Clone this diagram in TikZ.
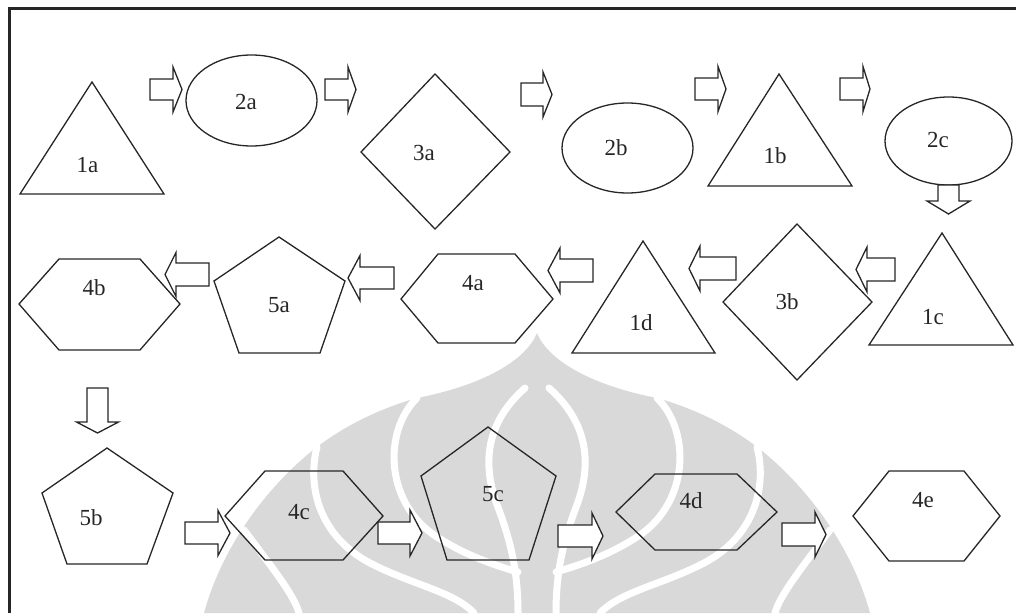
\documentclass[tikz,border=0pt]{standalone}
\usepackage{fontspec}
\setmainfont{Liberation Serif}
\begin{document}
\begin{tikzpicture}[x=1pt,y=-1pt,
  shapeline/.style={draw=black!85,line width=1.3pt,line join=miter},
  arrowline/.style={draw=black!85,fill=white,line width=1.3pt,line join=miter},
  lbl/.style={font=\fontsize{23}{26}\selectfont,text=black!85,inner sep=0pt},
  wm/.style={fill=black!15},
  wmgap/.style={draw=white,line width=7pt,line cap=round},
  pics/blockarrow/.style n args={4}{code={
    \draw[arrowline] (0,-#3) -- (#1,-#3) -- (#1,-#4) -- (#1+#2,0)
      -- (#1,#4) -- (#1,#3) -- (0,#3) -- cycle;}}
]
\useasboundingbox (0,0) rectangle (1016,613);

% faint emblem in the background
\fill[wm] (537,333) .. controls (548,360) and (590,385) .. (657,398)
  .. controls (700,410) and (735,430) .. (757,447)
  .. controls (800,480) and (850,540) .. (870,613) -- (204,613)
  .. controls (224,540) and (274,480) .. (317,447)
  .. controls (339,430) and (374,410) .. (417,398)
  .. controls (484,385) and (526,360) .. (537,333) -- cycle;
\newcommand{\emblemgaps}{%
  \draw[wmgap] (549,388) .. controls (585,420) and (595,460) .. (575,510)
    .. controls (562,545) and (556,575) .. (556,613);
  \draw[wmgap] (657,398) .. controls (690,430) and (690,500) .. (640,535)
    .. controls (610,555) and (580,565) .. (556,572);
  \draw[wmgap] (757,447) .. controls (768,490) and (752,540) .. (700,565)
    .. controls (660,585) and (620,592) .. (600,613);
  \draw[wmgap] (830,530) .. controls (800,570) and (780,595) .. (775,613);
}
\emblemgaps
\begin{scope}[shift={(1074,0)},xscale=-1]
  \emblemgaps
\end{scope}

% frame
\draw[line width=3pt,black!85] (9,613) -- (9,8) -- (1016,8);

% first row
\draw[shapeline] (92,82) -- (164,194) -- (20,194) -- cycle;
\node[lbl] (t1a) at (87.5,165) {1a};
\draw[shapeline] (251.5,100.5) ellipse [x radius=65.5, y radius=45.5];
\node[lbl] (t2a) at (246,102) {2a};
\draw[shapeline] (435,74) -- (510,152) -- (435,229) -- (361,152) -- cycle;
\node[lbl] (t3a) at (424,153) {3a};
\draw[shapeline] (627.5,148) ellipse [x radius=65.5, y radius=45];
\node[lbl] (t2b) at (616,148) {2b};
\draw[shapeline] (779,74) -- (852,186) -- (708,186) -- cycle;
\node[lbl] (t1b) at (775,156) {1b};
\draw[shapeline] (948.5,141) ellipse [x radius=63.5, y radius=44];
\node[lbl] (t2c) at (938,140) {2c};

% second row
\draw[shapeline] (942,233) -- (1013,345) -- (869,345) -- cycle;
\node[lbl] (t1c) at (933,317) {1c};
\draw[shapeline] (797,224) -- (872,302) -- (797,380) -- (723,302) -- cycle;
\node[lbl] (t3b) at (787,302) {3b};
\draw[shapeline] (643,241) -- (715,353) -- (572,353) -- cycle;
\node[lbl] (t1d) at (641,323) {1d};
\draw[shapeline] (401,299) -- (438,254) -- (515,254) -- (553,299) -- (515,343) -- (438,343) -- cycle;
\node[lbl] (t4a) at (473,283) {4a};
\draw[shapeline] (279,237) -- (345,281) -- (320,353) -- (239,353) -- (214,281) -- cycle;
\node[lbl] (t5a) at (279,305) {5a};
\draw[shapeline] (19,304) -- (59,259) -- (140,259) -- (180,304) -- (140,350) -- (59,350) -- cycle;
\node[lbl] (t4b) at (94,288) {4b};

% third row
\draw[shapeline] (107,448) -- (173,493) -- (147,564) -- (67,564) -- (42,493) -- cycle;
\node[lbl] (t5b) at (91,518) {5b};
\draw[shapeline] (225,516) -- (265,471) -- (343,471) -- (383,516) -- (343,560) -- (265,560) -- cycle;
\node[lbl] (t4c) at (299,512) {4c};
\draw[shapeline] (488,427) -- (556,476) -- (529,560) -- (447,560) -- (421,476) -- cycle;
\node[lbl] (t5c) at (493,494) {5c};
\draw[shapeline] (616,512) -- (655,474) -- (737,474) -- (777,512) -- (737,550) -- (655,550) -- cycle;
\node[lbl] (t4d) at (691,501) {4d};
\draw[shapeline] (853,516) -- (889,471) -- (964,471) -- (1000,516) -- (964,561) -- (889,561) -- cycle;
\node[lbl] (t4e) at (923,500) {4e};

% block arrows: body length, head length, half body width, half head width
\pic (a1) at (150,89.5) {blockarrow={23}{9}{10.5}{22.5}};
\pic (a2) at (325,89.5) {blockarrow={23}{8}{10.5}{22.5}};
\pic (a3) at (521,94.5) {blockarrow={22}{9}{11.5}{22.5}};
\pic (a4) at (695,89) {blockarrow={23}{8}{11}{22.5}};
\pic (a5) at (840,89) {blockarrow={23}{7}{11}{22.5}};
\pic[rotate=-90] (a6) at (948.5,185) {blockarrow={16}{13}{10.5}{21.5}};
\pic[rotate=180] (a7) at (895,269.5) {blockarrow={28}{11}{11.5}{22.5}};
\pic[rotate=180] (a8) at (736,268.5) {blockarrow={36}{11}{11.5}{22.5}};
\pic[rotate=180] (a9) at (593,270.5) {blockarrow={33}{12}{11.5}{22.5}};
\pic[rotate=180] (a10) at (394,278) {blockarrow={34}{12}{11}{22.5}};
\pic[rotate=180] (a11) at (209,274.5) {blockarrow={33}{11}{11.5}{22}};
\pic[rotate=-90] (a12) at (97.5,388) {blockarrow={34}{11}{10.5}{21}};
\pic (a13) at (185,533) {blockarrow={33}{12}{11}{22.5}};
\pic (a14) at (378,533) {blockarrow={32}{12}{11}{23}};
\pic (a15) at (558,536) {blockarrow={34}{11}{11}{23}};
\pic (a16) at (782,534.5) {blockarrow={33}{11}{11.5}{22.5}};
\end{tikzpicture}
\end{document}
